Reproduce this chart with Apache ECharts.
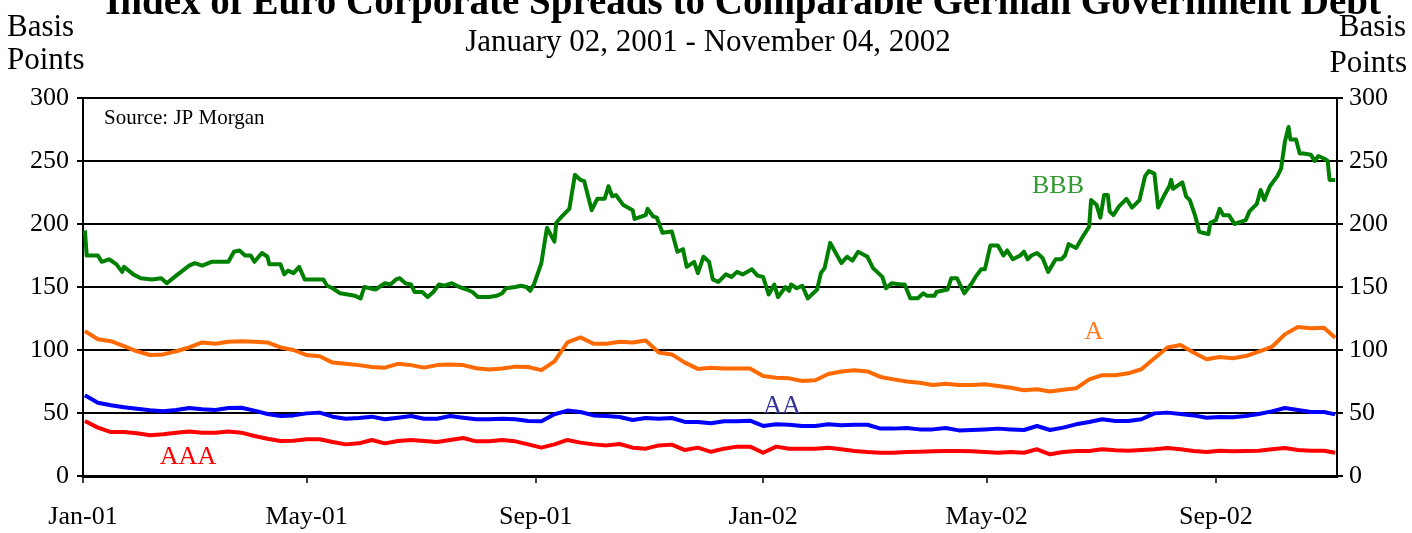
<!DOCTYPE html>
<html>
<head>
<meta charset="utf-8">
<script src="https://cdn.jsdelivr.net/npm/echarts@6.0.0/dist/echarts.min.js"></script>
<style>
  html, body { margin: 0; padding: 0; background: #ffffff; }
  #chart { width: 1412px; height: 533px; }
</style>
</head>
<body>
<div id="chart"></div>
<script>
// Euro corporate spreads over comparable German government debt, in basis points.

// BBB index (irregular observation dates)
const bbbDates = [
  '2001-01-02','2001-01-03','2001-01-09','2001-01-11','2001-01-15','2001-01-19','2001-01-22','2001-01-23','2001-01-28',
  '2001-02-01','2001-02-07','2001-02-12','2001-02-15','2001-02-20','2001-02-27','2001-03-02','2001-03-06','2001-03-11',
  '2001-03-20','2001-03-23','2001-03-26','2001-03-29','2001-04-01','2001-04-03','2001-04-07','2001-04-10','2001-04-11',
  '2001-04-17','2001-04-19','2001-04-21','2001-04-24','2001-04-27','2001-04-30','2001-05-03','2001-05-10','2001-05-12',
  '2001-05-15','2001-05-19','2001-05-23','2001-05-27','2001-05-30','2001-06-01','2001-06-04','2001-06-07','2001-06-09',
  '2001-06-12','2001-06-15','2001-06-18','2001-06-20','2001-06-23','2001-06-26','2001-06-28','2001-07-02','2001-07-05',
  '2001-07-08','2001-07-11','2001-07-14','2001-07-18','2001-07-22','2001-07-26','2001-07-29','2001-08-01','2001-08-07',
  '2001-08-11','2001-08-14','2001-08-16','2001-08-21','2001-08-24','2001-08-27','2001-08-29','2001-08-31','2001-09-04',
  '2001-09-07','2001-09-11','2001-09-12','2001-09-15','2001-09-19','2001-09-22','2001-09-25','2001-09-27','2001-10-01',
  '2001-10-04','2001-10-08','2001-10-10','2001-10-12','2001-10-14','2001-10-18','2001-10-23','2001-10-24','2001-10-30',
  '2001-10-31','2001-11-03','2001-11-05','2001-11-08','2001-11-13','2001-11-16','2001-11-19','2001-11-21','2001-11-25',
  '2001-11-27','2001-11-30','2001-12-03','2001-12-05','2001-12-08','2001-12-12','2001-12-15','2001-12-18','2001-12-21',
  '2001-12-26','2001-12-29','2002-01-01','2002-01-04','2002-01-07','2002-01-09','2002-01-13','2002-01-15','2002-01-16',
  '2002-01-19','2002-01-22','2002-01-25','2002-01-30','2002-02-01','2002-02-03','2002-02-06','2002-02-09','2002-02-12',
  '2002-02-15','2002-02-18','2002-02-21','2002-02-26','2002-03-01','2002-03-06','2002-03-08','2002-03-11','2002-03-16',
  '2002-03-18','2002-03-21','2002-03-25','2002-03-28','2002-03-30','2002-04-03','2002-04-04','2002-04-10','2002-04-12',
  '2002-04-15','2002-04-19','2002-04-23','2002-04-25','2002-04-28','2002-04-30','2002-05-03','2002-05-07','2002-05-10',
  '2002-05-12','2002-05-15','2002-05-19','2002-05-21','2002-05-23','2002-05-25','2002-05-28','2002-05-31','2002-06-03',
  '2002-06-07','2002-06-10','2002-06-12','2002-06-14','2002-06-18','2002-06-22','2002-06-25','2002-06-26','2002-06-29',
  '2002-07-01','2002-07-03','2002-07-05','2002-07-06','2002-07-08','2002-07-11','2002-07-15','2002-07-18','2002-07-22',
  '2002-07-25','2002-07-27','2002-07-30','2002-08-01','2002-08-04','2002-08-07','2002-08-08','2002-08-09','2002-08-14',
  '2002-08-16','2002-08-18','2002-08-21','2002-08-23','2002-08-25','2002-08-28','2002-08-29','2002-09-01','2002-09-03',
  '2002-09-05','2002-09-08','2002-09-11','2002-09-17','2002-09-19','2002-09-23','2002-09-25','2002-09-27','2002-09-30',
  '2002-10-02','2002-10-04','2002-10-06','2002-10-08','2002-10-10','2002-10-11','2002-10-14','2002-10-16','2002-10-18',
  '2002-10-22','2002-10-24','2002-10-26','2002-10-29','2002-10-31','2002-11-01','2002-11-04'
];
const bbbValues = [
  195,175,175,170,172,168,162,166,160,
  157,156,157,153,159,167,169,167,170,
  170,178,179,175,175,170,177,174,168,
  168,160,163,161,166,156,156,156,151,
  149,145,144,143,141,150,149,148,150,
  153,152,156,157,153,152,146,146,142,
  146,152,151,153,150,148,146,142,142,
  143,145,149,150,151,150,147,152,169,
  197,186,201,206,212,239,235,234,211,
  220,220,230,222,223,215,211,204,207,
  212,206,205,193,194,178,180,166,170,
  161,174,170,156,154,160,158,162,160,
  164,159,158,144,152,142,150,147,152,
  149,151,141,148,161,165,185,177,169,
  174,171,178,174,165,158,149,153,152,
  152,141,141,145,143,143,146,148,157,
  157,145,153,158,164,164,183,183,175,
  179,172,175,178,172,175,177,173,162,
  172,172,175,184,181,191,198,219,215,
  205,223,223,210,207,214,220,213,219,
  238,242,240,213,222,230,235,228,233,
  222,219,206,194,193,192,201,203,212,
  207,207,200,203,210,216,227,219,230,
  234,238,244,265,277,267,267,256,256,
  255,250,254,252,250,235,235
];

// Weekly observations for the A, AA and AAA indices
const weekDates = [
  '2001-01-02','2001-01-09','2001-01-16','2001-01-23','2001-01-30','2001-02-06','2001-02-13','2001-02-20','2001-02-27',
  '2001-03-06','2001-03-13','2001-03-20','2001-03-27','2001-04-03','2001-04-10','2001-04-17','2001-04-24','2001-05-01',
  '2001-05-08','2001-05-15','2001-05-22','2001-05-29','2001-06-05','2001-06-12','2001-06-19','2001-06-26','2001-07-03',
  '2001-07-10','2001-07-17','2001-07-24','2001-07-31','2001-08-07','2001-08-14','2001-08-21','2001-08-28','2001-09-04',
  '2001-09-11','2001-09-18','2001-09-25','2001-10-02','2001-10-09','2001-10-16','2001-10-23','2001-10-30','2001-11-06',
  '2001-11-13','2001-11-20','2001-11-27','2001-12-04','2001-12-11','2001-12-18','2001-12-25',
  '2002-01-01','2002-01-08','2002-01-15','2002-01-22','2002-01-29','2002-02-05','2002-02-12','2002-02-19','2002-02-26',
  '2002-03-05','2002-03-12','2002-03-19','2002-03-26','2002-04-02','2002-04-09','2002-04-16','2002-04-23','2002-04-30',
  '2002-05-07','2002-05-14','2002-05-21','2002-05-28','2002-06-04','2002-06-11','2002-06-18','2002-06-25','2002-07-02',
  '2002-07-09','2002-07-16','2002-07-23','2002-07-30','2002-08-06','2002-08-13','2002-08-20','2002-08-27','2002-09-03',
  '2002-09-10','2002-09-17','2002-09-24','2002-10-01','2002-10-08','2002-10-15','2002-10-22','2002-10-29','2002-11-04'
];
const aValues = [
  115,108.5,107,103,99,96,96.5,99,102,106,105,106.5,107,106.5,106,102,100,
  96,95,90,89,88,86.5,86,89,88,86,88,88.5,88,85.5,84.5,85.3,
  86.8,86.5,84,91,106,110,105,105,106.5,106,107.5,98,96.5,90,85,86,
  85.4,85.4,85.4,79.4,78,77.5,75.4,76,81,83,84,83,78.6,76.7,75,74,
  72.2,73.3,72.2,72.2,72.8,71.4,70,68,68.8,67,68.5,69.6,76.7,80,80,81.5,
  84.7,93.4,102,104,98,92.6,94.4,93.4,95.2,98.7,102.4,112.4,118.3,117.2,117.7,109.8
];
const aaValues = [
  64,58.2,56.1,54.5,53.4,52.1,51.3,52.4,54,52.9,52.4,54,54.2,51.9,49.2,47.6,48.1,
  49.7,50.3,47.1,45.5,46,47.1,45,46.3,47.6,45.5,45.5,47.6,46.3,45,45,45.5,
  45,43.7,43.4,49,51.9,50.8,48.1,47.6,46.8,44.4,46,45.5,46,42.9,42.9,41.8,
  43.4,43.4,43.9,39.7,41,40.7,39.7,39.7,41,40.2,40.7,40.7,37.6,37.6,38.1,37,
  37,38.1,36.2,36.5,37,37.6,37,36.5,39.7,36.5,38.4,41,42.9,45,43.7,43.7,
  45,49.7,50.3,49.2,48.1,46.3,46.8,46.6,47.6,49.2,51.3,54,52.4,50.8,50.8,48.9
];
const aaaValues = [
  43.7,38.4,34.9,34.9,33.9,32.3,33.1,34.4,35.4,34.4,34.4,35.4,34.4,31.7,29.6,27.8,28,
  29.1,29.1,27,25.1,25.9,28.6,25.9,27.8,28.6,27.8,27,28.6,30.2,27.5,27.5,28.6,
  27.5,25.1,22.5,25.1,28.6,26.5,25.1,24.3,25.4,22.5,21.7,24.3,24.9,20.6,22.5,19.2,
  21.7,23.3,23.3,18.5,23.3,21.7,21.7,21.7,22.5,21.2,19.8,19,18.5,18.5,19,19.3,
  19.6,19.8,19.8,19.6,19,18.5,19,18.5,21.2,17.2,19,19.8,19.8,21.2,20.4,20.1,
  20.6,21.2,22.2,21.2,19.8,19,20.1,19.6,19.8,20.1,21.2,22.2,20.6,20.1,20.1,18.5
];

// Axis ticks
const xTickDates = ['2001-01-01','2001-05-01','2001-09-01','2002-01-01','2002-05-01','2002-09-01'];
const xTickLabels = ['Jan-01','May-01','Sep-01','Jan-02','May-02','Sep-02'];
const xMin = '2001-01-01';
const xMax = '2002-11-05';
const yTicks = [0, 50, 100, 150, 200, 250, 300];

const FONT = '"Liberation Serif", "Times New Roman", serif';

// dates become UTC day timestamps on a plain value axis
function ts(d) {
  const p = d.split('-').map(Number);
  return Date.UTC(p[0], p[1] - 1, p[2]);
}
const tickTimes = xTickDates.map(ts);

function pairs(dates, values) {
  return dates.map((d, i) => [ts(d), values[i]]);
}

const chart = echarts.init(document.getElementById('chart'), null, { renderer: 'canvas' });

const yAxisCommon = {
  type: 'value',
  min: yTicks[0],
  max: yTicks[yTicks.length - 1],
  interval: yTicks[1] - yTicks[0],
  axisLine: { show: true, lineStyle: { color: '#000', width: 2 } },
  axisTick: { show: true, inside: false, length: 6, lineStyle: { color: '#000', width: 2 } },
  axisLabel: { color: '#000', fontFamily: FONT, fontSize: 26 }
};

function lineSeries(name, data, color) {
  return {
    name: name,
    type: 'line',
    data: data,
    showSymbol: false,
    symbol: 'none',
    lineStyle: { color: color, width: 4, join: 'round' },
    itemStyle: { color: color },
    animation: false
  };
}

chart.setOption({
  animation: false,
  backgroundColor: '#ffffff',
  grid: { left: 83, right: 75, top: 98, bottom: 57, containLabel: false },
  xAxis: {
    type: 'value',
    min: ts(xMin),
    max: ts(xMax),
    axisLine: { show: true, onZero: false, lineStyle: { color: '#000', width: 3 } },
    axisTick: { show: true, inside: false, length: 7, customValues: tickTimes, lineStyle: { color: '#000', width: 1.5 } },
    axisLabel: {
      customValues: tickTimes,
      showMinLabel: true,
      showMaxLabel: true,
      margin: 28,
      color: '#000',
      fontFamily: FONT,
      fontSize: 26,
      formatter: function (value) {
        const i = tickTimes.indexOf(+value);
        return i >= 0 ? xTickLabels[i] : '';
      }
    },
    splitLine: { show: false }
  },
  yAxis: [
    Object.assign({}, yAxisCommon, {
      position: 'left',
      axisLabel: Object.assign({}, yAxisCommon.axisLabel, { margin: 14 }),
      splitLine: { show: true, lineStyle: { color: '#000', width: 2 } }
    }),
    Object.assign({}, yAxisCommon, {
      position: 'right',
      axisLabel: Object.assign({}, yAxisCommon.axisLabel, { margin: 12 }),
      splitLine: { show: false }
    })
  ],
  series: [
    lineSeries('BBB', pairs(bbbDates, bbbValues), '#008000'),
    lineSeries('A', pairs(weekDates, aValues), '#ff6a00'),
    lineSeries('AA', pairs(weekDates, aaValues), '#0000ff'),
    lineSeries('AAA', pairs(weekDates, aaaValues), '#ff0000')
  ],
  graphic: [
    { type: 'text', x: 743, y: 4, z: 100,
      style: { text: 'Index of Euro Corporate Spreads to Comparable German Government Debt',
               font: 'bold 39px ' + FONT, fill: '#000', textAlign: 'center', textVerticalAlign: 'middle' } },
    { type: 'text', x: 708, y: 43, z: 100,
      style: { text: 'January 02, 2001 - November 04, 2002', font: '31px ' + FONT, fill: '#000',
               textAlign: 'center', textVerticalAlign: 'middle' } },
    { type: 'text', x: 7, y: 28, z: 100,
      style: { text: 'Basis', font: '31px ' + FONT, fill: '#000', textAlign: 'left', textVerticalAlign: 'middle' } },
    { type: 'text', x: 7, y: 61, z: 100,
      style: { text: 'Points', font: '31px ' + FONT, fill: '#000', textAlign: 'left', textVerticalAlign: 'middle' } },
    { type: 'text', x: 1406, y: 28, z: 100,
      style: { text: 'Basis', font: '31px ' + FONT, fill: '#000', textAlign: 'right', textVerticalAlign: 'middle' } },
    { type: 'text', x: 1407, y: 64, z: 100,
      style: { text: 'Points', font: '31px ' + FONT, fill: '#000', textAlign: 'right', textVerticalAlign: 'middle' } },
    { type: 'text', x: 104, y: 118, z: 100,
      style: { text: 'Source: JP Morgan', font: '21px ' + FONT, fill: '#000', textAlign: 'left', textVerticalAlign: 'middle' } },
    { type: 'text', x: 1058, y: 186, z: 100,
      style: { text: 'BBB', font: '26px ' + FONT, fill: '#339933', textAlign: 'center', textVerticalAlign: 'middle' } },
    { type: 'text', x: 1094, y: 332, z: 100,
      style: { text: 'A', font: '26px ' + FONT, fill: '#ff7a20', textAlign: 'center', textVerticalAlign: 'middle' } },
    { type: 'text', x: 782, y: 406, z: 100,
      style: { text: 'AA', font: '26px ' + FONT, fill: '#333399', textAlign: 'center', textVerticalAlign: 'middle' } },
    { type: 'text', x: 188, y: 457, z: 100,
      style: { text: 'AAA', font: '26px ' + FONT, fill: '#ff0000', textAlign: 'center', textVerticalAlign: 'middle' } }
  ]
});
</script>
</body>
</html>
